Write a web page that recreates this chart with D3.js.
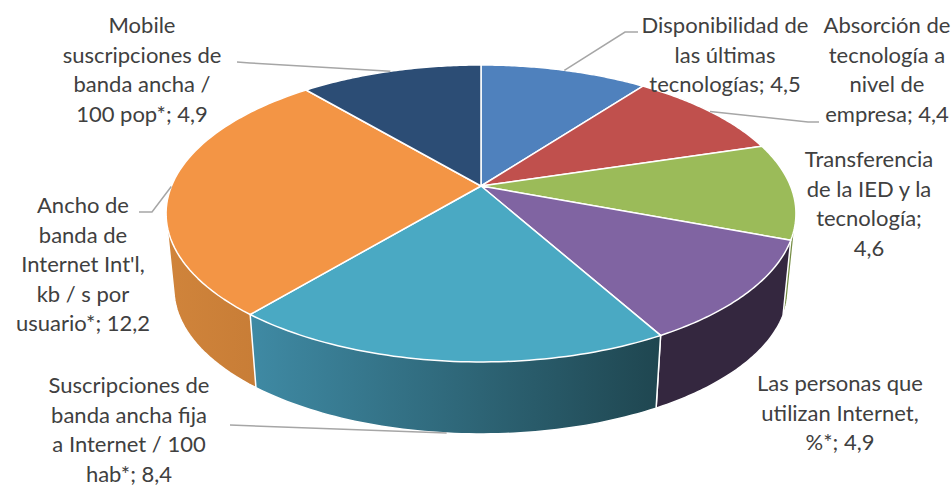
<!DOCTYPE html>
<html><head><meta charset="utf-8">
<style>html,body{margin:0;padding:0;background:#fff}svg{display:block}text{font-family:Lato,"Open Sans",sans-serif;font-size:22px;fill:#404040}</style>
<script src="https://cdn.jsdelivr.net/npm/d3@7"></script>
</head><body><svg width="952" height="486"></svg>
<script>
const categories = ["Disponibilidad de las últimas tecnologías","Absorción de tecnología a nivel de empresa","Transferencia de la IED y la tecnología","Las personas que utilizan Internet, %*","Suscripciones de banda ancha fija a Internet / 100 hab*","Ancho de banda de Internet Int'l, kb / s por usuario*","Mobile suscripciones de banda ancha / 100 pop*"];
const values = [4.5,4.4,4.6,4.9,8.4,12.2,4.9];
const labelLines = [
 ["Disponibilidad de","las últimas","tecnologías; 4,5"],
 ["Absorción de","tecnología a","nivel de","empresa; 4,4"],
 ["Transferencia","de la IED y la","tecnología;","4,6"],
 ["Las personas que","utilizan Internet,","%*; 4,9"],
 ["Suscripciones de","banda ancha fija","a Internet / 100","hab*; 8,4"],
 ["Ancho de","banda de","Internet Int'l,","kb / s por","usuario*; 12,2"],
 ["Mobile","suscripciones de","banda ancha /","100 pop*; 4,9"]
];
const topColors = ["#4F81BD","#C0504D","#9BBB59","#8064A2","#4AA9C3","#F39545","#2C4D75"];
const wallStops = [["#3b618e","#3b618e"],["#903c3a","#903c3a"],["#748c43","#748c43"],["#34273F","#34273F"],["#3F8AA4","#1F4650"],["#D0843B","#C37934"],["#213a58","#213a58"]];
// label layout: [centre x, first baseline]
const labelPos = [[725,33],[887,33],[869,167],[840,391],[129,393],[83,213],[142,33]];
// leader polylines up to the elbow; the pie end is computed from the slice
const leaders = [[[638,32],[625,32]],[[819,122],[808,122]],null,null,[[230,425]],[[139,212],[152,212]],[[237,62],[250,63]]];

const cx=481, cy=186, A=309.5, K=143.4, p=0.185, depth=76.4, shrink=0.975;
const lineH=29.5;
function proj(a,lower){
  const x=Math.sin(a), y=-Math.cos(a), f=1/(1-p*y);
  const X=A*x*f, Y=K*y*f;
  return lower ? [cx+X*shrink, cy+depth+Y*shrink] : [cx+X, cy+Y];
}
const svg=d3.select("svg");
const defs=svg.append("defs");
const arcs=d3.pie().sort(null).value(d=>d)(values);
const sample=(a0,a1)=>d3.range(0,61).map(i=>a0+(a1-a0)*i/60);
const line=d3.line();

wallStops.forEach((s,i)=>{
  const g=defs.append("linearGradient").attr("id","w"+i);
  g.append("stop").attr("offset",0).attr("stop-color",s[0]);
  g.append("stop").attr("offset",1).attr("stop-color",s[1]);
});
const order=arcs.map((d,i)=>({d,i})).sort((a,b)=>proj((a.d.startAngle+a.d.endAngle)/2)[1]-proj((b.d.startAngle+b.d.endAngle)/2)[1]);
svg.append("g").selectAll("path").data(order).join("path")
  .attr("d",({d})=>{
    const s=sample(d.startAngle,d.endAngle);
    return line(d3.polygonHull(s.map(a=>proj(a,false)).concat(s.map(a=>proj(a,true)))))+"Z";
  })
  .attr("fill",({i})=>`url(#w${i})`).attr("stroke","#fff").attr("stroke-width",1.5).attr("stroke-linejoin","round");
svg.append("g").selectAll("path").data(arcs).join("path")
  .attr("d",d=>line([[cx,cy]].concat(sample(d.startAngle,d.endAngle).map(a=>proj(a,false))))+"Z")
  .attr("fill",(d,i)=>topColors[i]).attr("stroke","#fff").attr("stroke-width",1.5).attr("stroke-linejoin","round");

svg.append("g").selectAll("path").data(arcs.map((d,i)=>({d,i})).filter(o=>leaders[o.i])).join("path")
  .attr("d",({d,i})=>{
    const mid=(d.startAngle+d.endAngle)/2;
    return line(leaders[i].concat([proj(mid,Math.cos(mid)<-0.9)]));
  })
  .attr("fill","none").attr("stroke","#A6A6A6").attr("stroke-width",1.5);

const lab=svg.append("g").selectAll("text").data(labelLines).join("text")
  .attr("text-anchor","middle");
lab.selectAll("tspan").data((d,i)=>d.map((t,j)=>({t,j,i}))).join("tspan")
  .attr("x",d=>labelPos[d.i][0]).attr("y",d=>labelPos[d.i][1]+d.j*lineH).text(d=>d.t);
</script></body></html>
